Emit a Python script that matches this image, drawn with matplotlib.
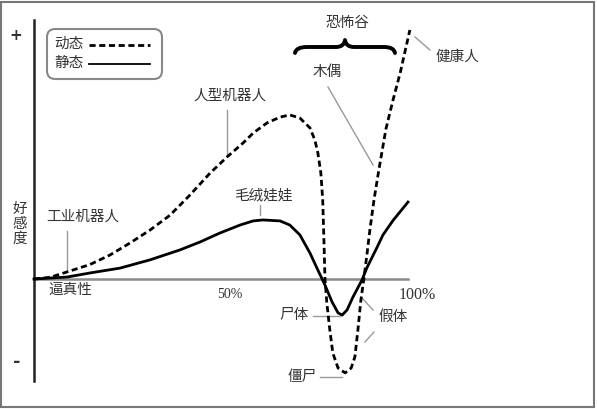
import matplotlib
matplotlib.use("Agg")
import matplotlib.pyplot as plt
from matplotlib.path import Path
from matplotlib.patches import PathPatch, FancyBboxPatch, Rectangle

plt.rcParams['font.family'] = ['Noto Sans CJK SC', 'DejaVu Sans']

# ---- data: realism (%) vs affinity (arbitrary units) ----
moving_x = [0, 4.3, 8.8, 15.0, 20.3, 25.7, 31.0, 36.4, 41.7, 47.1, 51.6, 55.9, 58.6,
            62.3, 65.8, 68.4, 71.1, 73.8, 75.1, 75.9, 76.7, 77.2, 77.5, 77.8,
            78.3, 79.1, 79.9, 81.3, 83.2, 84.8, 85.8, 86.6, 87.4, 88.2, 89.0, 89.8,
            90.9, 92.2, 94.1, 96.0, 97.9, 100.5]
moving_y = [0, 0.7, 2.9, 6.0, 9.9, 14.9, 20.2, 26.4, 34.7, 43.8, 50.4, 56.2, 60.3,
            64.5, 66.9, 67.8, 66.5, 62.4, 57.4, 52.1, 43.8, 32.6, 17.0, 0,
            -9.9, -21.1, -30.6, -36.8, -38.8, -36.8, -32.2, -21.1, -8.7, 0, 9.9, 20.2,
            32.6, 45.0, 62.0, 74.0, 85.1, 102.9]

still_x = [0, 8.8, 15.0, 23.0, 31.0, 39.0, 44.4, 49.7, 55.1, 58.6, 61.2, 65.8, 68.4,
           71.1, 73.8, 75.9, 77.8, 79.7, 81.3, 82.4, 83.7, 85.3, 87.7, 89.0, 91.7,
           93.3, 96.0, 100.0]
still_y = [0, 0.8, 2.5, 4.5, 7.9, 12.0, 15.3, 19.0, 22.3, 24.0, 24.4, 24.0, 22.3,
           18.2, 10.7, 3.7, -2.5, -9.5, -14.0, -14.9, -12.8, -7.4, -0.4, 4.6, 13.0,
           18.2, 24.2, 31.8]

legend_labels = ['动态', '静态']
tick_labels = ['50%', '100%']

W, H = 597, 409
fig = plt.figure(figsize=(W / 100, H / 100), dpi=100)
ax = fig.add_axes([0, 0, 1, 1])
X0, SX, Y0, SY = 34, 3.74, 279, 2.42
ax.set_xlim(-X0 / SX, (W - X0) / SX)
ax.set_ylim((Y0 - H) / SY, Y0 / SY)
ax.axis('off')


def P(px, py):
    return ((px - X0) / SX, (Y0 - py) / SY)


TC = '#333333'
GC = '#999999'
DASH = (0, (2.2, 1.3))

# axes
ax.plot([0, 100], [0, 0], color='#8a8a8a', lw=1.8, zorder=1)
ax.plot([0, 0], [P(0, 20)[1], P(0, 381)[1]], color='#222222', lw=1.8, zorder=1)

# curves
ax.plot(moving_x, moving_y, color='black', lw=2.0, linestyle=DASH, zorder=3,
        solid_joinstyle='round', dash_joinstyle='round')
ax.plot(still_x, still_y, color='black', lw=2.0, zorder=3, solid_joinstyle='round')

fs = 10.5
# axis labels
ax.text(*P(16, 36), '+', ha='center', va='center', fontsize=11, color=TC, family='DejaVu Sans', fontweight='bold')
ax.text(*P(17, 362), '-', ha='center', va='center', fontsize=13, color=TC, family='DejaVu Sans', fontweight='bold')
ax.text(*P(20, 224), '好\n感\n度', ha='center', va='center', fontsize=fs, color=TC, linespacing=1.05)
ax.text(*P(70, 290), '逼真性', ha='center', va='center', fontsize=fs, color=TC)
ax.text(*P(230, 295), tick_labels[0], ha='center', va='center', fontsize=10, color=TC, family='Liberation Serif')
ax.text(*P(417, 295), tick_labels[1], ha='center', va='center', fontsize=11.5, color=TC, family='Liberation Serif')

# legend box
lx0, ly0 = P(47, 79)
lx1, ly1 = P(162, 29)
box = FancyBboxPatch((lx0, ly0), lx1 - lx0, ly1 - ly0,
                     boxstyle='round,pad=0,rounding_size=2.2', mutation_aspect=SX / SY,
                     fc='white', ec='#888888', lw=1.5, zorder=4)
ax.add_patch(box)
ax.text(*P(69, 44), legend_labels[0], ha='center', va='center', fontsize=fs, color=TC, zorder=5)
ax.text(*P(69, 63), legend_labels[1], ha='center', va='center', fontsize=fs, color=TC, zorder=5)
a, b = P(89, 45), P(150, 45)
ax.plot([a[0], b[0]], [a[1], b[1]], color='black', lw=2.0, linestyle=DASH, zorder=5)
a, b = P(89, 64), P(150, 64)
ax.plot([a[0], b[0]], [a[1], b[1]], color='black', lw=1.3, zorder=5)


def leader(p1, p2, lw=1.0):
    a, b = P(*p1), P(*p2)
    ax.plot([a[0], b[0]], [a[1], b[1]], color=GC, lw=lw, zorder=2)


# annotations
ax.text(*P(230, 96), '人型机器人', ha='center', va='center', fontsize=fs, color=TC)
leader((227, 110), (227, 155))
ax.text(*P(263, 195), '毛绒娃娃', ha='center', va='center', fontsize=fs, color=TC)
leader((260, 205), (260, 215))
ax.text(*P(83, 217), '工业机器人', ha='center', va='center', fontsize=fs, color=TC)
leader((67, 231), (67, 270))
ax.text(*P(327, 72), '木偶', ha='center', va='center', fontsize=fs, color=TC)
leader((328, 87), (373, 165))
ax.text(*P(457, 57), '健康人', ha='center', va='center', fontsize=fs, color=TC)
leader((415, 37), (430, 50))
ax.text(*P(294, 315), '尸体', ha='center', va='center', fontsize=fs, color=TC)
leader((313, 316), (340, 316))
ax.text(*P(393, 317), '假体', ha='center', va='center', fontsize=fs, color=TC)
leader((362, 298), (373, 310))
leader((365, 342), (374, 332))
ax.text(*P(302, 377), '僵尸', ha='center', va='center', fontsize=fs, color=TC)
leader((320, 377), (342, 377))
ax.text(*P(347, 23), '恐怖谷', ha='center', va='center', fontsize=fs, color=TC)

# curly brace
bp = [(295, 53), (296, 47), (307, 47), (336, 47), (344, 47), (345, 40),
      (346, 47), (354, 47), (384, 47), (394, 47), (395, 53)]
codes = [Path.MOVETO, Path.CURVE3, Path.CURVE3, Path.LINETO, Path.CURVE3, Path.CURVE3,
         Path.CURVE3, Path.CURVE3, Path.LINETO, Path.CURVE3, Path.CURVE3]
brace = Path([P(*q) for q in bp], codes)
ax.add_patch(PathPatch(brace, fc='none', ec='black', lw=2.8, capstyle='round', joinstyle='round', zorder=3))

# outer frame
fig.patches.append(Rectangle((1 / W, 2 / H), 1 - 4 / W, 1 - 4 / H, transform=fig.transFigure,
                             fill=False, ec='#777777', lw=1.5))

fig.savefig('out.png', dpi=100, facecolor='white')
